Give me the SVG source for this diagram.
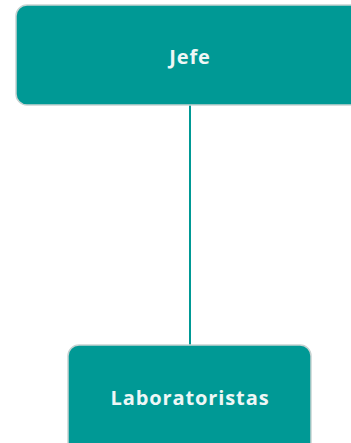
<svg xmlns="http://www.w3.org/2000/svg" width="351" height="443" viewBox="0 0 351 443">
<style>
.box{fill:#009995;stroke:#c8d3d2;stroke-width:1.5}
.lbl{font-family:"Open Sans","Liberation Sans",sans-serif;font-weight:bold;font-size:20px;letter-spacing:0.9px;fill:#eef7f6;text-anchor:middle}
.con{stroke:#009995;stroke-width:2;fill:none}
</style>
<rect width="351" height="443" fill="#ffffff"/>
<g id="connectors">
<line class="con" x1="190" y1="105" x2="190" y2="346"/>
</g>
<g id="jefe">
<rect class="box" x="16" y="5" width="350" height="100" rx="11"/>
<text class="lbl" x="190" y="64">Jefe</text>
</g>
<g id="laboratoristas">
<rect class="box" x="68" y="345" width="243" height="110" rx="11"/>
<text class="lbl" x="190" y="405">Laboratoristas</text>
</g>
</svg>
